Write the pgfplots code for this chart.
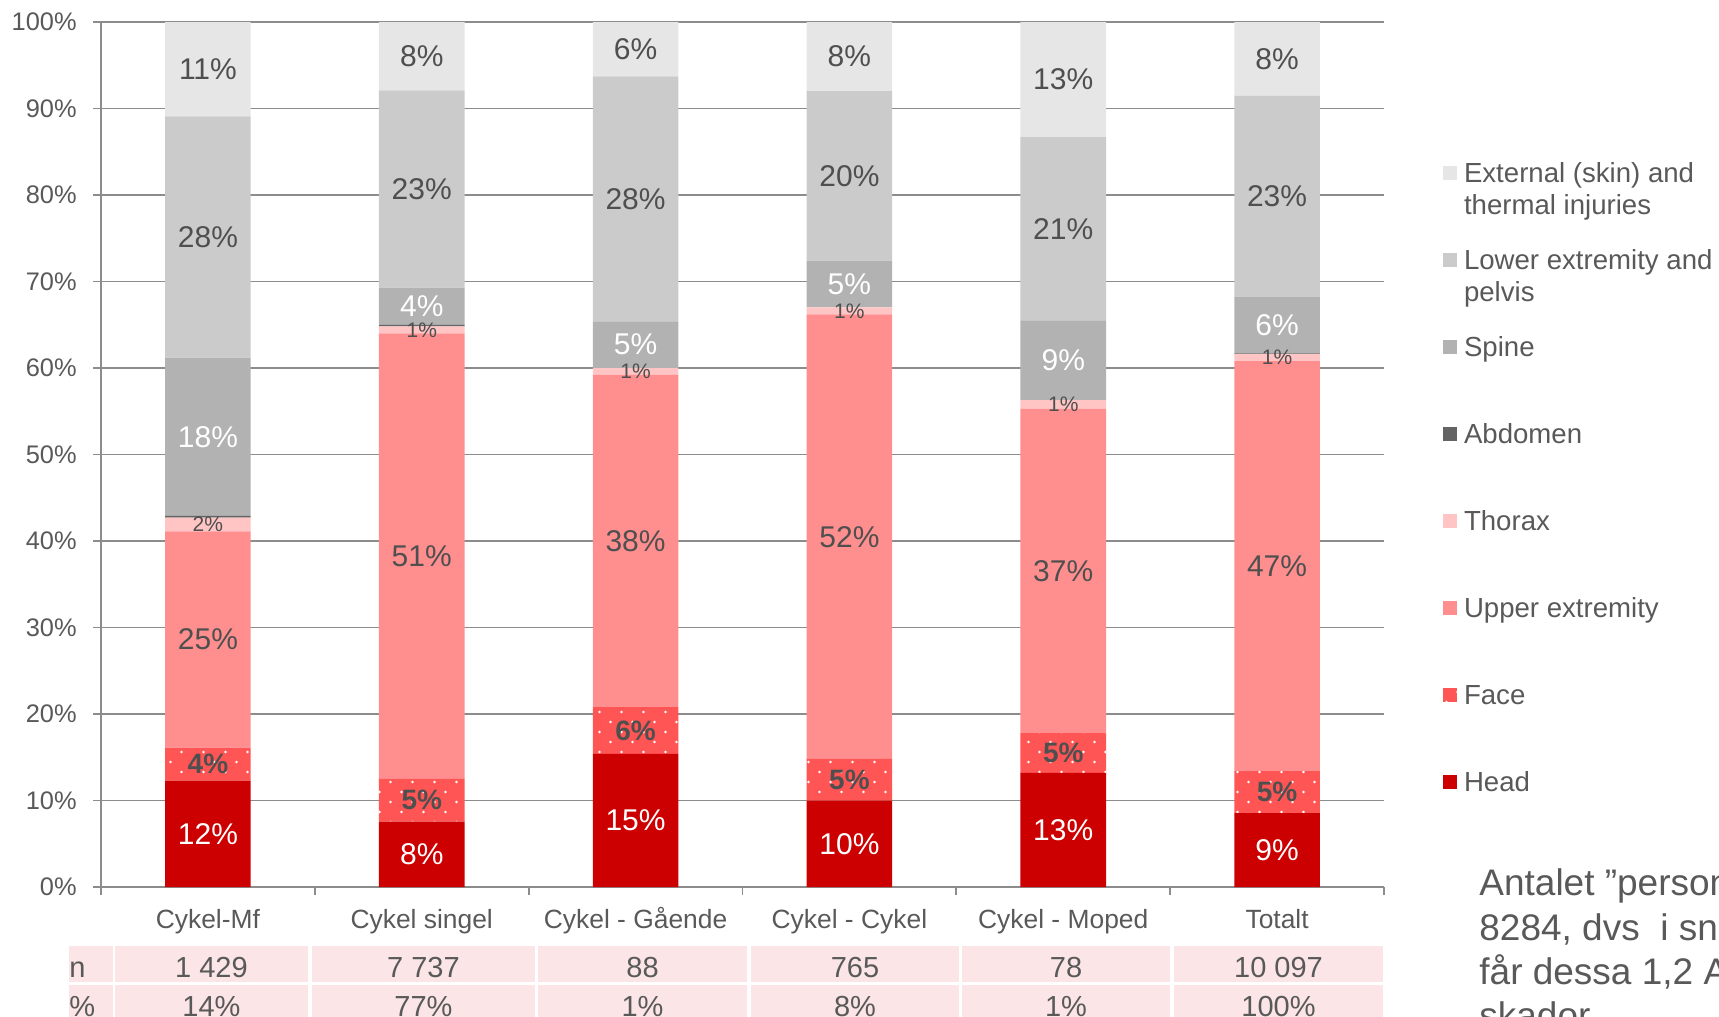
\documentclass[border=0pt]{standalone}
\usepackage{pgfplots}
\pgfplotsset{compat=1.18}
\usepackage{fontspec}
\setmainfont{Liberation Sans}
\usetikzlibrary{patterns}
\definecolor{headC}{HTML}{CC0000}
\definecolor{faceC}{HTML}{FF5555}
\definecolor{upperC}{HTML}{FF8F8F}
\definecolor{thoraxC}{HTML}{FFC5C5}
\definecolor{abdC}{HTML}{646464}
\definecolor{spineC}{HTML}{B2B2B2}
\definecolor{lowerC}{HTML}{CBCBCB}
\definecolor{extC}{HTML}{E6E6E6}
\definecolor{textC}{HTML}{595959}
\definecolor{labC}{HTML}{4F4F4F}
\definecolor{gridC}{HTML}{8C8C8C}
\definecolor{pinkC}{HTML}{FBE5E6}
\pgfdeclarepatternformonly{sparsedots}{\pgfpoint{-1pt}{-1pt}}{\pgfpoint{12pt}{11pt}}{\pgfpoint{11pt}{10pt}}{%
  \pgfpathcircle{\pgfpoint{2.75pt}{2.5pt}}{0.65pt}%
  \pgfpathcircle{\pgfpoint{8.25pt}{7.5pt}}{0.65pt}%
  \pgfusepath{fill}}
\newcommand{\lgd}[1]{\strut#1}
\newcommand{\lgdd}[2]{\strut\smash{\begin{tabular}[t]{@{}l@{}}#1\\#2\end{tabular}}}
\pgfplotsset{
  seglab/.style={nodes near coords, point meta=explicit symbolic,
    every node near coord/.append style={anchor=center, inner sep=0pt,
      font=\fontsize{15}{16}\selectfont, text=#1}},
}
\begin{document}
\begin{tikzpicture}
\useasboundingbox (0pt,0pt) rectangle (859.5pt,-508.5pt);
\clip (0pt,0pt) rectangle (859.5pt,-508.5pt);
\begin{axis}[
  at={(50.5pt,-443.5pt)}, anchor=south west,
  width=641.5pt, height=432.5pt, scale only axis,
  xmin=-0.5, xmax=5.5, ymin=0, ymax=100,
  ybar stacked, bar width=0.4,
  axis x line*=bottom, axis y line*=left,
  axis line style={draw=gridC, line width=0.9pt},
  ymajorgrids, grid style={draw=gridC, line width=0.9pt},
  ytick={0,10,20,30,40,50,60,70,80,90,100},
  yticklabels={0\%,10\%,20\%,30\%,40\%,50\%,60\%,70\%,80\%,90\%,100\%},
  xtick={-0.5,0.5,1.5,2.5,3.5,4.5,5.5}, xticklabels={},
  extra x ticks={0,1,2,3,4,5},
  extra x tick labels={Cykel-Mf,Cykel singel,Cykel - Gående,Cykel - Cykel,Cykel - Moped,Totalt},
  extra x tick style={major tick length=0pt, grid=none},
  tick align=outside, major tick length=4pt,
  tick style={draw=gridC, line width=0.9pt},
  xticklabel style={anchor=base, yshift=-20.6pt, font=\fontsize{13.2}{15}\selectfont, text=textC},
  yticklabel style={anchor=east, inner sep=0pt, xshift=-8pt, font=\fontsize{12.7}{14}\selectfont, text=textC},
  legend style={at={(rel axis cs:1.046,0.845)}, anchor=north west, draw=none, fill=none,
    inner sep=0pt, row sep=26.8pt, column sep=1.3pt,
    font=\fontsize{13.8}{16}\selectfont, text=textC,
    cells={anchor=base west, inner sep=0pt}},
  reverse legend,
  legend image code/.code={\draw[#1,draw=none] (0pt,1.45pt) rectangle (7pt,8.45pt);},
]
% Head
\addplot[fill=headC, draw=none, seglab=white] coordinates {
 (0,12.3) [12\%] (1,7.55) [8\%] (2,15.4) [15\%] (3,10.0) [10\%] (4,13.2) [13\%] (5,8.55) [9\%]};
% Face
\addplot[fill=faceC, draw=none, postaction={pattern=sparsedots, pattern color=white},
  seglab=labC, every node near coord/.append style={font=\fontsize{14}{15}\selectfont\bfseries}] coordinates {
 (0,3.8) [4\%] (1,4.95) [5\%] (2,5.4) [6\%] (3,4.8) [5\%] (4,4.6) [5\%] (5,4.85) [5\%]};
% Upper extremity
\addplot[fill=upperC, draw=none, seglab=labC] coordinates {
 (0,25.0) [25\%] (1,51.5) [51\%] (2,38.4) [38\%] (3,51.4) [52\%] (4,37.5) [37\%] (5,47.4) [47\%]};
% Thorax
\addplot[fill=thoraxC, draw=none, seglab=labC, every node near coord/.append style={font=\fontsize{10.5}{11}\selectfont}] coordinates {
 (0,1.6) [2\%] (1,0.8) [1\%] (2,0.8) [1\%] (3,0.8) [1\%] (4,1.0) [1\%] (5,0.8) [1\%]};
% Abdomen
\addplot[fill=abdC, draw=none] coordinates {
 (0,0.2) (1,0.2) (2,0) (3,0) (4,0) (5,0.1)};
% Spine
\addplot[fill=spineC, draw=none, seglab=white] coordinates {
 (0,18.3) [18\%] (1,4.3) [4\%] (2,5.4) [5\%] (3,5.4) [5\%] (4,9.2) [9\%] (5,6.5) [6\%]};
% Lower extremity
\addplot[fill=lowerC, draw=none, seglab=labC] coordinates {
 (0,27.9) [28\%] (1,22.8) [23\%] (2,28.3) [28\%] (3,19.6) [20\%] (4,21.2) [21\%] (5,23.3) [23\%]};
% External
\addplot[fill=extC, draw=none, seglab=labC] coordinates {
 (0,10.9) [11\%] (1,7.9) [8\%] (2,6.3) [6\%] (3,8.0) [8\%] (4,13.3) [13\%] (5,8.5) [8\%]};
\legend{\lgd{Head},\lgd{Face},\lgd{Upper extremity},\lgd{Thorax},\lgd{Abdomen},\lgd{Spine},
  \lgdd{Lower extremity and}{pelvis},\lgdd{External (skin) and}{thermal injuries}}
\end{axis}
\begin{scope}[x=0.5pt,y=-0.5pt]
\foreach \a/\b in {69/113,115/308,312/535,538/747,751/959,962/1170,1174/1383}{
  \fill[pinkC] (\a,946) rectangle (\b,982);
  \fill[pinkC] (\a,985) rectangle (\b,1030);
}
\begin{scope}[every node/.style={anchor=base, font=\fontsize{14.5}{16}\selectfont, text=textC, inner sep=0pt}]
\node[anchor=base west] at (69,977) {n};
\node[anchor=base west] at (69,1016) {\%};
\node at (211.5,977) {1 429};
\node at (423.5,977) {7 737};
\node at (642.5,977) {88};
\node at (855,977) {765};
\node at (1066,977) {78};
\node at (1278.5,977) {10 097};
\node at (211.5,1016) {14\%};
\node at (423.5,1016) {77\%};
\node at (642.5,1016) {1\%};
\node at (855,1016) {8\%};
\node at (1066,1016) {1\%};
\node at (1278.5,1016) {100\%};
\end{scope}
\begin{scope}[every node/.style={anchor=base west, font=\fontsize{18.5}{21}\selectfont, text=textC, inner sep=0pt}]
\node at (1479,895) {Antalet ”personer};
\node at (1479,940) {8284, dvs\ \ i snitt};
\node at (1479,984) {får dessa 1,2 AIS};
\node at (1479,1028) {skador};
\end{scope}
\end{scope}
\end{tikzpicture}
\end{document}
